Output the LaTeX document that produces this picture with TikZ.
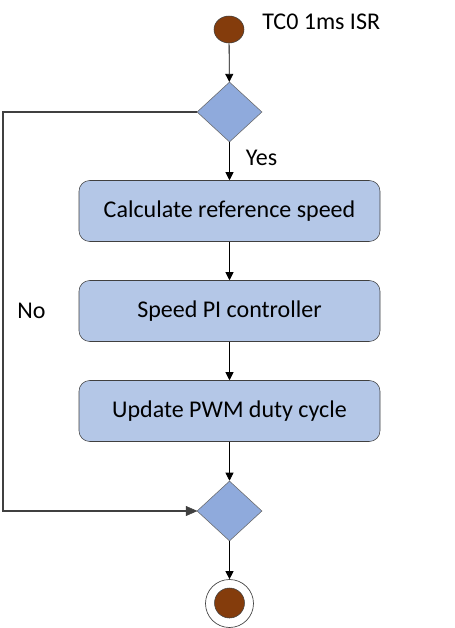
\documentclass[tikz,border=0pt]{standalone}
\usepackage{fontspec}
\setmainfont{Carlito}
\usetikzlibrary{shapes.geometric,arrows.meta}
\definecolor{brownfill}{HTML}{843C0C}
\definecolor{diafill}{HTML}{8FAADC}
\definecolor{boxfill}{HTML}{B4C7E7}
\definecolor{edgegray}{HTML}{404040}
\tikzset{
  stepbox/.style={draw=edgegray, fill=boxfill, rounded corners=8pt, minimum width=225.75pt, minimum height=45.75pt, inner sep=0pt, font=\fontsize{18}{21}\selectfont},
  decide/.style={diamond, draw=edgegray!80, fill=diafill, minimum width=48.75pt, minimum height=45pt, inner sep=0pt, aspect=1.083},
  conn/.style={draw=black, -{Triangle[length=6pt,width=6pt]}, line width=0.6pt},
  loopline/.style={draw=edgegray, line width=1.5pt},
  lbl/.style={font=\fontsize{18}{21}\selectfont, inner sep=0pt}
}
\begin{document}
\begin{tikzpicture}[x=0.75pt,y=-0.75pt]
\useasboundingbox (0,0) rectangle (454,628);
\node[ellipse, draw=edgegray, fill=brownfill, minimum width=22.5pt, minimum height=20.25pt, inner sep=0pt] (start) at (229,29.5) {};
\node[lbl, anchor=west] (title) at (262,22) {TC0 1ms ISR};
\node[decide] (d1) at (229.5,112) {};
\node[stepbox] (b1) at (229.5,211) {Calculate reference speed};
\node[stepbox] (b2) at (229.5,311) {Speed PI controller};
\node[stepbox] (b3) at (229.5,411) {Update PWM duty cycle};
\node[decide] (d2) at (229.5,511) {};
\node[circle, draw=edgegray, fill=white, minimum size=36pt, inner sep=0pt, line width=0.5pt] (endo) at (229.5,603.5) {};
\node[circle, draw=edgegray, fill=brownfill, minimum size=22.5pt, inner sep=0pt, line width=0.4pt] (endi) at (229.5,603) {};
\node[lbl] (yes) at (261.5,158) {Yes};
\node[lbl] (no) at (31.5,311) {No};
\coordinate (c1) at (3,112);
\coordinate (c2) at (3,511);
\draw[conn] (start) -- (d1);
\draw[conn] (d1) -- (b1);
\draw[conn] (b1) -- (b2);
\draw[conn] (b2) -- (b3);
\draw[conn] (b3) -- (d2);
\draw[conn] (d2) -- (endo);
\draw[loopline] (d1.west) -- (c1) -- (c2) -- ([xshift=-6pt]d2.west);
\draw[draw=edgegray, fill=edgegray] (d2.west) -- ++(-8pt,3.5pt) -- ++(0,-7pt) -- cycle;
\end{tikzpicture}
\end{document}
